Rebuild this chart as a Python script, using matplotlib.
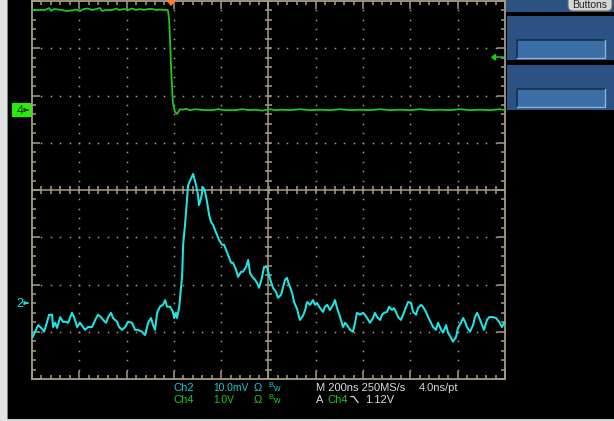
import matplotlib
matplotlib.use("Agg")
import matplotlib.pyplot as plt
from matplotlib.patches import Rectangle, FancyBboxPatch, Polygon
from matplotlib.collections import LineCollection
import numpy as np

plt.rcParams['font.family'] = ['Liberation Sans', 'DejaVu Sans']

# ---- acquisition settings -------------------------------------------------
TIME_PER_DIV = 200.0     # ns / div
CH2_SCALE = 10.0         # mV / div
CH4_SCALE = 1.0          # V / div
TRIG_POS_DIV = -2.06     # trigger point, divisions from screen centre
CH2_POS_DIV = -2.39      # channel 2 ground reference
CH4_POS_DIV = 1.69       # channel 4 ground reference
TRIG_LEVEL = 1.12        # V on Ch4

# ---- channel 2 (cyan) : time [ns] relative to trigger, amplitude [mV] ----
cyan_t = [-585, -575, -562, -545, -537, -524, -516, -503, -499, -490,
          -482, -469, -457, -444, -435, -419, -410, -397, -385, -372,
          -364, -351, -334, -321, -309, -296, -287, -275, -266, -254,
          -245, -228, -220, -207, -194, -182, -165, -152, -140, -123,
          -110, -97, -85, -76, -68, -59, -47, -34, -25, -17,
          -4, 8, 13, 21, 25, 34, 47, 51, 59, 68,
          72, 85, 93, 97, 106, 114, 118, 127, 135, 144,
          152, 161, 169, 178, 186, 194, 203, 216, 224, 233,
          241, 254, 262, 275, 283, 296, 304, 317, 326, 334,
          347, 355, 364, 372, 385, 393, 406, 414, 423, 431,
          444, 452, 465, 474, 482, 490, 499, 503, 512, 520,
          533, 541, 545, 558, 567, 575, 588, 600, 609, 617,
          630, 643, 651, 660, 672, 685, 693, 702, 715, 727,
          736, 744, 757, 769, 778, 786, 799, 812, 820, 829,
          841, 854, 862, 871, 884, 892, 901, 913, 922, 934,
          943, 951, 960, 972, 981, 994, 1002, 1015, 1023, 1036,
          1044, 1057, 1065, 1078, 1087, 1099, 1108, 1120, 1129, 1142,
          1150, 1163, 1171, 1184, 1192, 1205, 1213, 1226, 1235, 1243,
          1251, 1264, 1277, 1285, 1294, 1302, 1315, 1323, 1336, 1345,
          1361, 1374, 1387, 1399, 1408]
cyan_mv = [-7.2, -6.1, -4.7, -5.5, -6.1, -4.0, -2.5, -2.5, -5.1, -4.2,
           -5.3, -3.0, -4.0, -4.0, -4.2, -2.1, -3.0, -5.1, -4.2, -5.1,
           -5.7, -5.1, -5.1, -3.6, -2.5, -3.0, -3.6, -4.2, -3.0, -2.1,
           -3.2, -4.0, -5.1, -5.7, -5.1, -4.0, -4.2, -5.7, -5.7, -6.1,
           -6.8, -4.2, -3.2, -4.7, -5.7, -2.1, -0.8, -0.4, 0.6, -0.8,
           -0.8, -1.9, -3.2, -2.1, -3.2, -1.1, 5.9, 12.3, 16.5, 22.2,
           24.9, 26.4, 27.3, 26.6, 24.9, 22.8, 20.7, 22.2, 24.5, 23.5,
           21.4, 18.6, 17.1, 16.5, 15.4, 14.4, 13.3, 12.3, 12.3, 11.2,
           10.1, 8.5, 8.5, 7.0, 5.5, 6.6, 6.6, 7.6, 9.1, 6.3,
           5.3, 4.9, 4.2, 3.2, 5.5, 7.6, 7.6, 5.9, 4.4, 3.2,
           2.3, 1.1, 1.7, 3.4, 4.9, 5.3, 3.8, 3.4, 2.1, 0.2,
           -1.3, -3.0, -3.6, -2.7, -1.5, 0.2, -0.4, 0.6, -0.4, 0.0,
           -1.1, -1.9, -0.8, -0.4, -1.5, -0.4, 0.6, -1.1, -3.0, -5.1,
           -4.2, -4.7, -5.7, -6.1, -4.2, -2.1, -2.5, -2.1, -2.5, -3.2,
           -4.2, -3.2, -2.1, -3.0, -3.6, -2.5, -2.1, -1.9, -0.8, -1.5,
           -1.1, -1.9, -3.0, -3.6, -2.5, -0.8, 0.2, 0.0, -1.9, -2.5,
           -1.1, -0.4, -0.8, -1.9, -3.0, -4.2, -5.1, -5.7, -4.2, -5.7,
           -6.3, -4.7, -6.3, -7.4, -8.2, -7.2, -5.3, -4.2, -3.2, -4.0,
           -5.1, -6.1, -4.7, -3.0, -2.1, -3.0, -4.7, -5.7, -3.6, -3.0,
           -3.0, -3.2, -4.0, -5.1, -4.2]

# ---- channel 4 (green) : time [ns] relative to trigger, amplitude [V] -----
green_t = [-588, -533, -516, -507, -495, -461, -444, -419, -402, -385,
           -368, -351, -334, -317, -300, -292, -275, -249, -233, -220,
           -199, -182, -165, -148, -131, -114, -97, -80, -63, -47,
           -30, -17, -13, -8, -4, 0, 4, 8, 17, 25,
           38, 51, 63, 80, 101, 123, 144, 173, 199, 228,
           271, 300, 334, 355, 385, 419, 440, 469, 503, 545,
           588, 630, 672, 715, 757, 799, 841, 884, 926, 968,
           1010, 1053, 1095, 1137, 1180, 1222, 1264, 1306, 1349, 1391,
           1412]
green_v = [2.12, 2.12, 2.16, 2.10, 2.14, 2.12, 2.10, 2.11, 2.13, 2.10,
           2.14, 2.15, 2.12, 2.14, 2.16, 2.10, 2.12, 2.12, 2.15, 2.12,
           2.14, 2.12, 2.15, 2.12, 2.14, 2.12, 2.14, 2.14, 2.12, 2.13,
           2.12, 2.12, 2.11, 1.90, 1.42, 0.91, 0.49, 0.15, -0.04, -0.08,
           0.02, 0.01, 0.03, 0.00, 0.02, 0.01, 0.00, 0.00, 0.02, 0.00,
           0.00, 0.02, 0.00, 0.01, -0.01, 0.02, 0.00, 0.01, 0.00, 0.02,
           0.00, 0.01, 0.00, 0.02, 0.00, 0.01, 0.00, 0.02, 0.00, 0.01,
           0.00, 0.02, 0.00, 0.01, 0.00, 0.02, 0.00, 0.01, 0.00, 0.02,
           0.00]

# ---- readout lines --------------------------------------------------------
ch_rows = [("Ch2", "10.0mV", "#19c8d2"), ("Ch4", "1.0V", "#1ec81e")]
timebase_text = "M 200ns 250MS/s"
record_text = "4.0ns/pt"
trigger_source = "Ch4"
trigger_text = "1.12V"

# ---- colours --------------------------------------------------------------
GRID = "#a69d84"
CYAN = "#1ee6e6"
GREEN = "#1ec81e"
PANEL = "#2b5282"
PANEL_IN = "#3b6ea6"

W, H = 614, 421
L, R, T, B = 32, 505, 1, 379
PX = (R - L) / 10.0

fig = plt.figure(figsize=(W / 100, H / 100), dpi=100, facecolor="black")

# full-frame canvas in pixel units for the surrounding UI
bg = fig.add_axes([0, 0, 1, 1])
bg.set_xlim(0, W)
bg.set_ylim(H, 0)
bg.axis("off")
bg.set_zorder(0)

bg.add_patch(Rectangle((0, 0), 6.5, H, color="#e2e2e2", lw=0))
bg.add_patch(Rectangle((6.5, 0), 1, H, color="#808080", lw=0))
bg.add_patch(Rectangle((6.5, 418.5), W, 3, color="#cfcfcf", lw=0))

# right-hand button panel
bg.add_patch(Rectangle((506, -1), W - 506, 13, color=PANEL, lw=0))
for top, bot, ity in [(16, 60, 40), (65, 110, 89)]:
    bg.add_patch(Rectangle((507, top), W - 507, bot - top, color=PANEL, lw=0))
    bg.add_patch(Rectangle((517, ity), 88, 18, facecolor=PANEL_IN,
                           edgecolor="none"))
    bg.plot([517, 517, 605], [ity + 18, ity, ity], color="#16304f", lw=1.2)
    bg.plot([517, 605, 605], [ity + 18, ity + 18, ity], color="#8db0d6", lw=1)
bg.add_patch(FancyBboxPatch((568, -7), 44, 18,
                            boxstyle="round,pad=0,rounding_size=5",
                            facecolor="#d6d6d6", edgecolor="#6a6a6a", lw=0.8))
bg.text(590, 5.5, "Buttons", ha="center", va="center", fontsize=7.5,
        color="#222222")

# ---- graticule axes -------------------------------------------------------
ax = fig.add_axes([L / W, 1 - B / H, (R - L) / W, (B - T) / H])
ax.set_zorder(1)
ax.set_facecolor("black")
ax.set_xlim(-5, 5)
ax.set_ylim(-4, 4)
for s in ax.spines.values():
    s.set_color(GRID)
    s.set_linewidth(1.3)
ax.set_xticks(np.arange(-5, 6))
ax.set_yticks(np.arange(-4, 5))
ax.set_xticks(np.arange(-5, 5.01, 0.2), minor=True)
ax.set_yticks(np.arange(-4, 4.01, 0.2), minor=True)
ax.tick_params(which="both", direction="in", top=True, right=True,
               colors=GRID, width=1.1, labelbottom=False, labelleft=False)
ax.tick_params(which="major", length=5.5)
ax.tick_params(which="minor", length=3)

# dotted division lines
sub_x = np.arange(-5, 5.01, 0.2)
sub_y = np.arange(-4, 4.01, 0.2)
for xv in range(-4, 5):
    if xv != 0:
        ax.plot(np.full_like(sub_y, xv), sub_y, ls="none", marker="s",
                ms=1.1, mew=0, color=GRID)
for yv in range(-3, 4):
    if yv != 0:
        ax.plot(sub_x, np.full_like(sub_x, yv), ls="none", marker="s",
                ms=1.1, mew=0, color=GRID)

# centre cross with sub-division ticks
ax.axhline(0, color=GRID, lw=1.1)
ax.axvline(0, color=GRID, lw=1.1)
tk = 3.6 / PX
segs = [[(xv, -tk), (xv, tk)] for xv in sub_x]
segs += [[(-tk, yv), (tk, yv)] for yv in sub_y]
ax.add_collection(LineCollection(segs, colors=GRID, linewidths=1.1))

# traces
gx = np.array(green_t) / TIME_PER_DIV + TRIG_POS_DIV
gy = np.array(green_v) / CH4_SCALE + CH4_POS_DIV
ax.plot(gx, gy, color=GREEN, lw=1.3, zorder=5)
cx = np.array(cyan_t) / TIME_PER_DIV + TRIG_POS_DIV
cy = np.array(cyan_mv) / CH2_SCALE + CH2_POS_DIV
ax.plot(cx, cy, color=CYAN, lw=1.45, zorder=6)

# trigger position marker at the top
ax.add_patch(Polygon([(TRIG_POS_DIV - 0.09, 4.03), (TRIG_POS_DIV + 0.09, 4.03),
                      (TRIG_POS_DIV, 3.91)], closed=True, color="#ff7a3c",
                     clip_on=False, zorder=8))

# trigger level marker on the right edge
lvl = TRIG_LEVEL / CH4_SCALE + CH4_POS_DIV
ax.plot([4.76, 4.96], [lvl, lvl], color=GREEN, lw=1.1, zorder=7)
ax.add_patch(Polygon([(4.72, lvl), (4.80, lvl + 0.06), (4.80, lvl - 0.06)],
                     closed=True, color=GREEN, zorder=7))

# channel ground markers on the left
y4 = (T + B) / 2 - CH4_POS_DIV * PX
bg.add_patch(Rectangle((12, y4 - 7), 20, 14, color="#22f000", lw=0))
bg.text(20.5, y4 + 0.5, "4", ha="center", va="center", fontsize=9,
        color="#333333")
bg.annotate("", xy=(31, y4), xytext=(25, y4),
            arrowprops=dict(arrowstyle="-|>", color="#333333", lw=0.9,
                            mutation_scale=5))
y2 = (T + B) / 2 - CH2_POS_DIV * PX
bg.text(20, y2 + 0.5, "2", ha="center", va="center", fontsize=9, color=CYAN)
bg.annotate("", xy=(31, y2), xytext=(25, y2),
            arrowprops=dict(arrowstyle="-|>", color=CYAN, lw=0.9,
                            mutation_scale=5))

# ---- readout --------------------------------------------------------------
row_y = [388, 400]
for (ch, scale, col), yy in zip(ch_rows, row_y):
    bg.text(173, yy, ch, fontsize=8, color=col, va="center")
    bg.text(213, yy, scale, fontsize=7.4, color=col, va="center")
    bg.text(254, yy, "\u03a9", fontsize=8, color=col, va="center")
    bg.text(268, yy - 2.5, "B", fontsize=5.5, color=col, va="center")
    bg.text(273, yy + 0.5, "w", fontsize=6.5, color=col, va="center")

TXT = "#dcdcdc"
bg.text(316, row_y[0], timebase_text, fontsize=8, color=TXT, va="center")
bg.text(419, row_y[0], record_text, fontsize=8, color=TXT, va="center")
bg.text(316, row_y[1], "A", fontsize=8, color=TXT, va="center")
bg.text(327, row_y[1], trigger_source, fontsize=8, color=GREEN, va="center")
bg.plot([351, 353.5, 358], [396.5, 396.5, 402.5], color=TXT, lw=0.9)
bg.text(365, row_y[1], trigger_text, fontsize=8, color=TXT, va="center")

fig.savefig("out.png", dpi=100, facecolor="black")
